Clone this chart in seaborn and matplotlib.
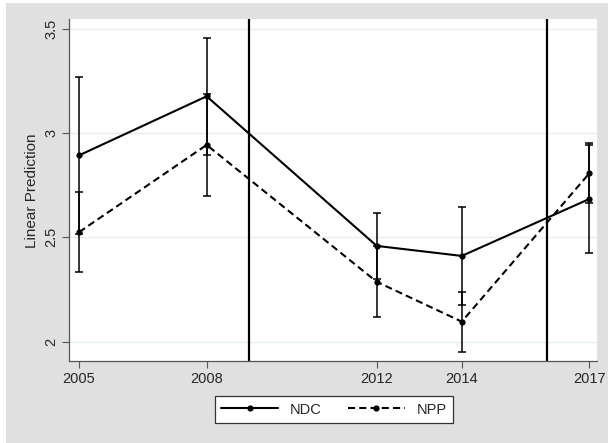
import matplotlib
matplotlib.use("Agg")
import matplotlib.pyplot as plt
import numpy as np
import pandas as pd
import seaborn as sns
from matplotlib.lines import Line2D
from matplotlib.patches import Rectangle

# values
years = [2005, 2008, 2012, 2014, 2017]
ndc_pred = [2.893, 3.176, 2.459, 2.411, 2.684]
ndc_low = [2.518, 2.896, 2.299, 2.178, 2.427]
ndc_high = [3.268, 3.456, 2.619, 2.644, 2.941]
npp_pred = [2.525, 2.943, 2.287, 2.096, 2.807]
npp_low = [2.332, 2.699, 2.117, 1.952, 2.663]
npp_high = [2.718, 3.187, 2.457, 2.240, 2.951]
break_years = [2009, 2016]
y_ticks = [2, 2.5, 3, 3.5]
y_tick_labels = ["2", "2.5", "3", "3.5"]

sns.set_style("white")
plt.rcParams["font.family"] = ["Liberation Sans", "DejaVu Sans"]

W, H = 608, 443
fig = plt.figure(figsize=(W / 100, H / 100), dpi=100)
fig.patch.set_facecolor("white")
fig.patches.append(Rectangle((6 / W, 0), 1, 1 - 3 / H, transform=fig.transFigure,
                             facecolor="#e0e0e0", edgecolor="none", zorder=-10))
ax = fig.add_axes([69.3 / W, 1 - 361.3 / H, (597 - 69.3) / W, (361.3 - 19.3) / H])
ax.set_facecolor("white")

df = pd.DataFrame({
    "year": years * 2,
    "pred": ndc_pred + npp_pred,
    "party": ["NDC"] * len(years) + ["NPP"] * len(years),
})

for y in y_ticks:
    ax.axhline(y, color="#e6eff0", lw=1.0, zorder=0)

sns.lineplot(data=df, x="year", y="pred", style="party", style_order=["NDC", "NPP"],
             dashes={"NDC": "", "NPP": (3.4, 2.0)}, markers={"NDC": "o", "NPP": "o"},
             color="black", lw=1.5, markersize=4.5, markeredgewidth=0, legend=False,
             ax=ax, zorder=3)

for pred, lo, hi in [(ndc_pred, ndc_low, ndc_high), (npp_pred, npp_low, npp_high)]:
    pred = np.array(pred)
    err = [pred - np.array(lo), np.array(hi) - pred]
    ax.errorbar(years, pred, yerr=err, fmt="none", ecolor="black", elinewidth=1.1,
                capsize=2.6, capthick=1.1, zorder=2)

for bx in break_years:
    ax.axvline(bx, color="black", lw=1.6, zorder=2)

ax.set_xlim(2004.77, 2017.18)
ax.set_ylim(1.906, 3.545)
ax.set_xticks(years)
ax.set_xticklabels([str(y) for y in years])
ax.set_yticks(y_ticks)
ax.set_yticklabels(y_tick_labels, rotation=90, va="center")
ax.set_xlabel("")
ax.set_ylabel("Linear Prediction", fontsize=11, labelpad=4)
ax.tick_params(axis="both", direction="out", length=5, width=0.8, color="#555555",
               labelsize=10.5, pad=3, bottom=True, left=True)
for side in ["top", "right"]:
    ax.spines[side].set_visible(False)
for side in ["left", "bottom"]:
    ax.spines[side].set_color("#555555")
    ax.spines[side].set_linewidth(0.9)

handles = [
    Line2D([], [], color="black", lw=1.5, marker="o", markersize=4.5, markeredgewidth=0),
    Line2D([], [], color="black", lw=1.5, marker="o", markersize=4.5, markeredgewidth=0,
           dashes=(3.4, 2.0)),
]
leg = fig.legend(handles, ["NDC", "NPP"], loc="center", ncol=2,
                 bbox_to_anchor=(334 / W, 1 - 409.5 / H), fontsize=10.5,
                 handlelength=3.9, handletextpad=0.8, columnspacing=1.8,
                 frameon=True, fancybox=False, borderpad=0.45)
leg.get_frame().set_edgecolor("#333333")
leg.get_frame().set_linewidth(0.9)
leg.get_frame().set_facecolor("white")
leg.get_frame().set_alpha(1)

fig.savefig("out.png", dpi=100)
